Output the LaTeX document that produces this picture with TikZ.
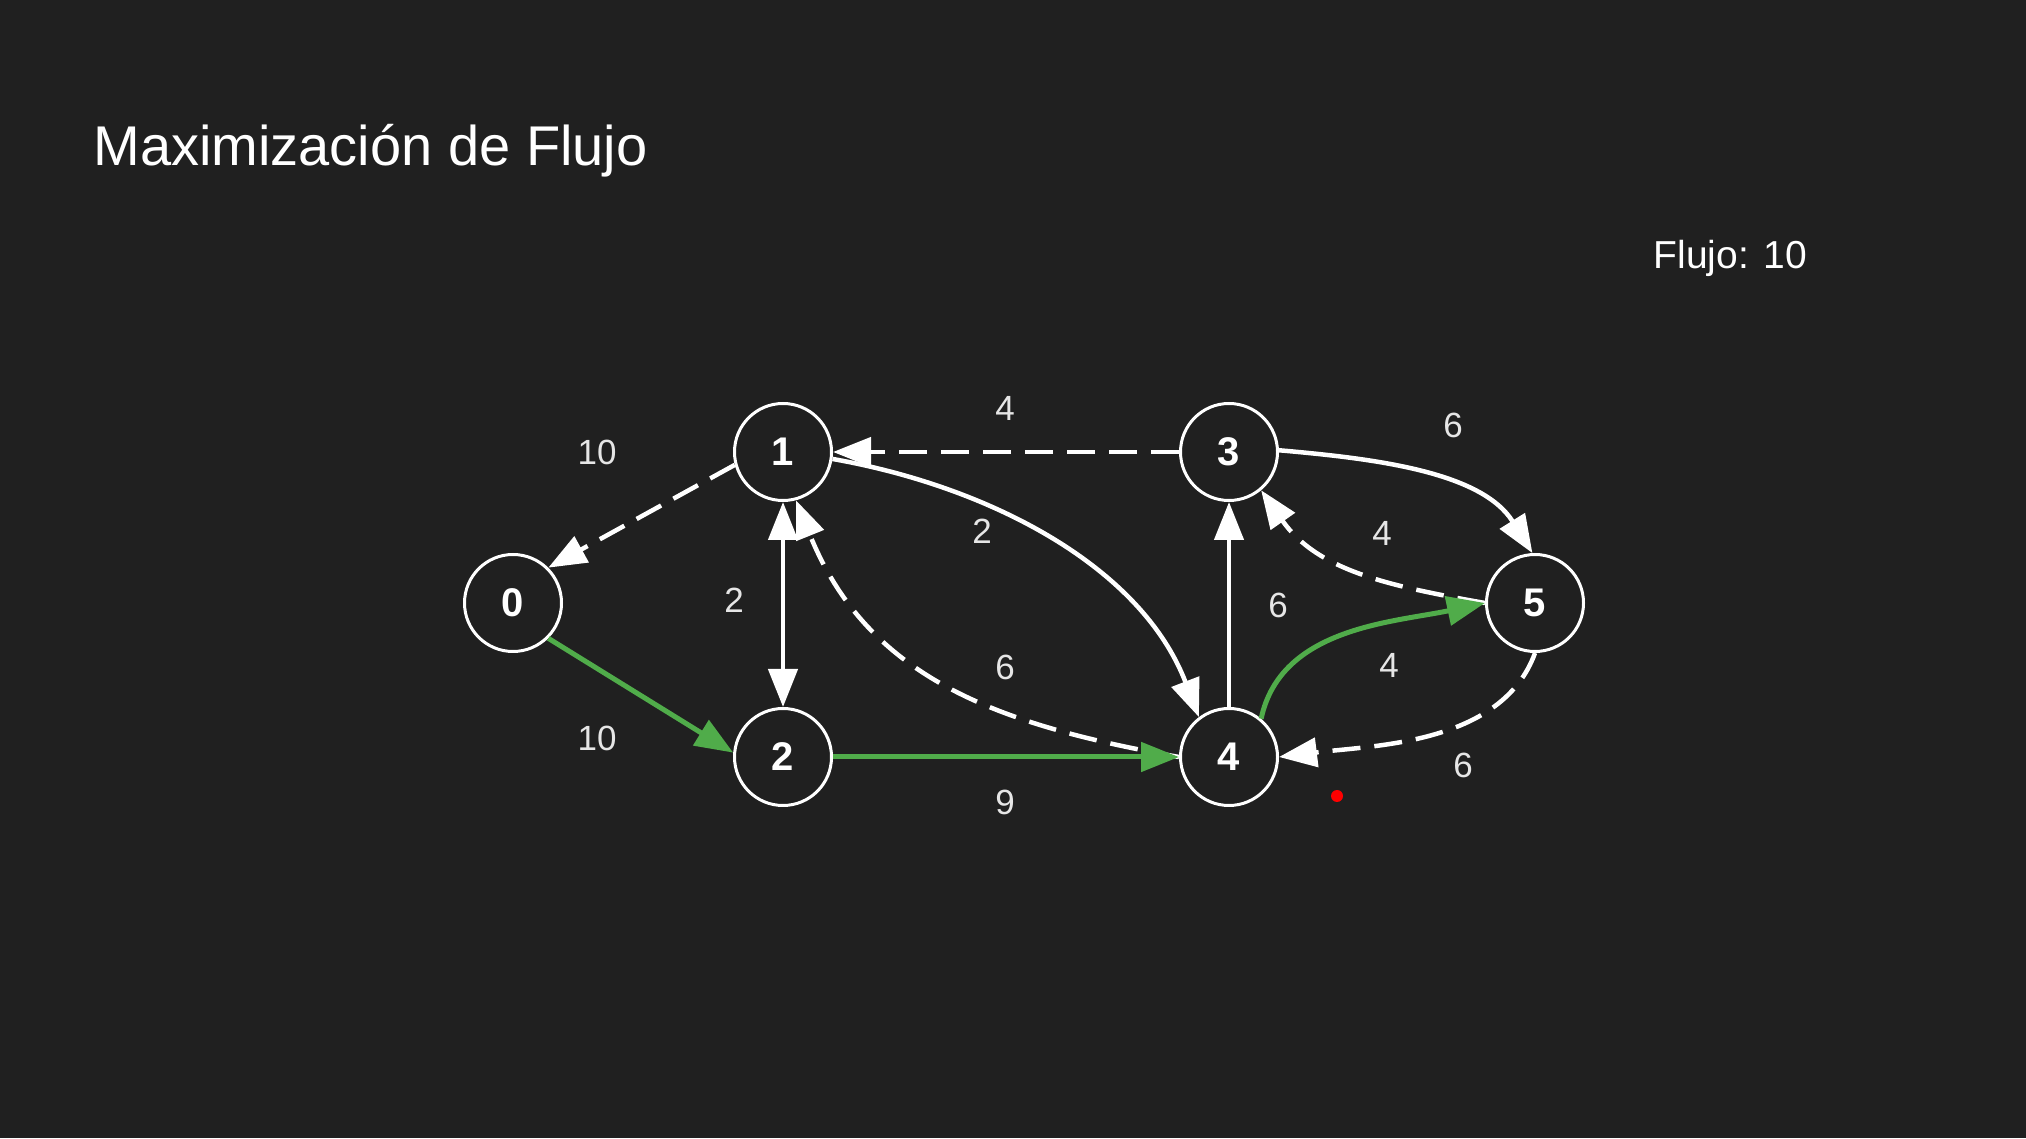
\documentclass[tikz,border=0pt]{standalone}
\usepackage{fontspec}
\setmainfont{Liberation Sans}
\usetikzlibrary{arrows.meta}
\definecolor{bg}{RGB}{32,32,32}
\definecolor{flowgreen}{RGB}{80,172,74}
\definecolor{labelgray}{RGB}{230,230,230}
\begin{document}
\begin{tikzpicture}[x=1pt,y=1pt,
  vertex/.style={circle, draw=white, line width=3pt, fill=bg, minimum size=97pt, inner sep=0pt, text=white, font=\fontsize{40}{40}\selectfont\bfseries},
  wlabel/.style={text=labelgray, font=\fontsize{35}{35}\selectfont, inner sep=0pt},
  tipstyle/.style={-{Triangle[length=38pt,width=29pt]}},
  flowline/.style={draw=white, line width=4.5pt, tipstyle},
  dashline/.style={flowline, dash pattern=on 28pt off 14pt},
  greenline/.style={draw=flowgreen, line width=5pt, tipstyle}
]
\fill[bg] (0,0) rectangle (2026,1138);
\useasboundingbox (0,0) rectangle (2026,1138);

\node[anchor=base west, text=white, font=\fontsize{56}{60}\selectfont] (title) at (90,972) {Maximización de Flujo};
\node[anchor=base west, text=white, font=\fontsize{39}{44}\selectfont] (flow) at (1650,869) {Flujo: 10};

\node[vertex] (n0) at (513,535) {0};
\node[vertex] (n1) at (783,686) {1};
\node[vertex] (n2) at (783,381) {2};
\node[vertex] (n3) at (1229,686) {3};
\node[vertex] (n4) at (1229,381) {4};
\node[vertex] (n5) at (1535,535) {5};

% edges
\draw[dashline] (n1.195) -- (n0.45);
\draw[flowline, {Triangle[length=38pt,width=29pt]}-{Triangle[length=38pt,width=29pt]}] (n1.south) -- (n2.north);
\draw[dashline] (n3.west) -- (n1.east);
\draw[flowline] (n1.-8) to[out=-10, in=111, looseness=0.92] (n4.127);
\draw[dashline] (n4.180) to[out=170, in=-68, looseness=1.05] (n1.-75);
\draw[greenline] (n0.-45) -- (n2.175);
\draw[greenline] (n2.east) -- (n4.west);
\draw[flowline] (n4.north) -- (n3.south);
\draw[flowline] (n3.2) to[out=-5, in=122, looseness=0.9] (n5.93);
\draw[dashline] (n5.180) to[out=170, in=-55] (n3.-50);
\draw[dashline] (n5.-90) to[out=-110, in=7, looseness=0.9] (n4.0);
\draw[greenline] (n4.50) to[out=78, in=192, looseness=0.95] (n5.180);

% labels
\node[wlabel] (l10a) at (597,686) {10};
\node[wlabel] (l10b) at (597,400) {10};
\node[wlabel] (l2a) at (734,538) {2};
\node[wlabel] (l4a) at (1005,730) {4};
\node[wlabel] (l2b) at (982,607) {2};
\node[wlabel] (l6a) at (1005,471) {6};
\node[wlabel] (l9) at (1005,336) {9};
\node[wlabel] (l6b) at (1278,533) {6};
\node[wlabel] (l6c) at (1453,713) {6};
\node[wlabel] (l4b) at (1382,605) {4};
\node[wlabel] (l4c) at (1389,473) {4};
\node[wlabel] (l6d) at (1463,373) {6};

\node[circle, fill=red, minimum size=12pt, inner sep=0pt] (dot) at (1337,342) {};
\end{tikzpicture}
\end{document}
